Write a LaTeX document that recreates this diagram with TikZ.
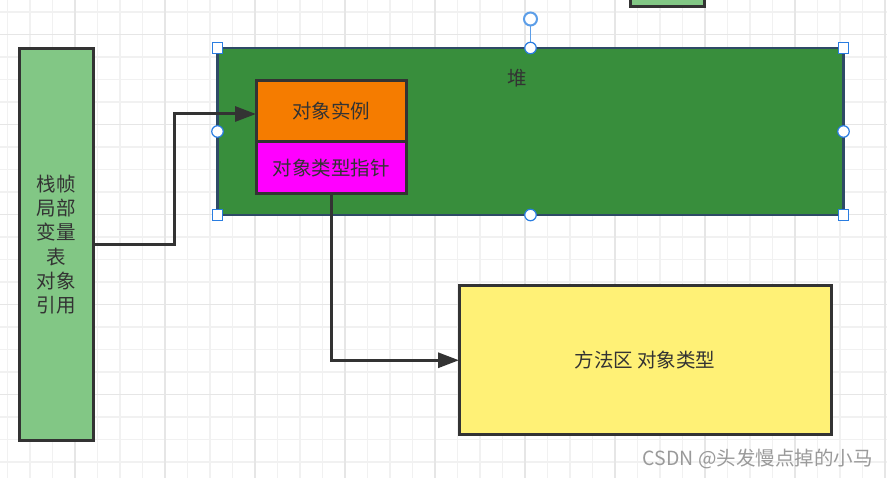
\documentclass[tikz,border=0pt]{standalone}
\usepackage{fontspec}
\setmainfont{Noto Sans CJK SC}
\usetikzlibrary{arrows.meta,calc}
\definecolor{lgreen}{HTML}{82C785}
\definecolor{hgreen}{HTML}{388E3C}
\definecolor{iorange}{HTML}{F57C00}
\definecolor{pmag}{HTML}{FF00FF}
\definecolor{myellow}{HTML}{FFF176}
\definecolor{boxline}{HTML}{333333}
\definecolor{heapline}{HTML}{2E4A66}
\definecolor{txt}{HTML}{333333}
\definecolor{selblue}{HTML}{2A7DE1}
\definecolor{rotblue}{HTML}{5C9EE8}
\definecolor{gridminor}{HTML}{F1F1F1}
\definecolor{gridmajor}{HTML}{E6E6E6}
\definecolor{wmark}{HTML}{9A9A9A}
\begin{document}
\begin{tikzpicture}[x=1pt,y=-1pt,
  box/.style={draw=boxline, line width=3pt, inner sep=0pt, outer sep=0pt,
    anchor=north west, font=\fontsize{19.5}{24.3}\selectfont, text=txt, align=center},
  conn/.style={draw=boxline, line width=3pt, -{Triangle[length=21pt,width=15pt]}},
  sqh/.style={draw=selblue, fill=white, line width=1.2pt, minimum size=10.5pt, inner sep=0pt, outer sep=0pt},
  circh/.style={draw=selblue, fill=white, line width=1.2pt, circle, minimum size=11.5pt, inner sep=0pt, outer sep=0pt},
  minorline/.style={draw=gridminor, line width=1.3pt},
  majorline/.style={draw=gridmajor, line width=1.3pt}]
\useasboundingbox (0,0) rectangle (887,478);
\clip (0,0) rectangle (887,478);
\fill[white] (0,0) rectangle (887,478);
% grid
\foreach \i in {0,...,39} \draw[minorline] ({7.5+22.5*\i},0) -- ({7.5+22.5*\i},478);
\foreach \j in {0,...,21} \draw[minorline] (0,{12+22.5*\j}) -- (887,{12+22.5*\j});
\foreach \i in {0,...,9} \draw[majorline] ({75+90*\i},0) -- ({75+90*\i},478);
\foreach \j in {0,...,5} \draw[majorline] (0,{34.5+90*\j}) -- (887,{34.5+90*\j});

% top partial box
\node[box, fill=lgreen, minimum width=74.5pt, minimum height=20pt] (topbox) at (630,-13) {};

% stack frame
\node[box, fill=lgreen, minimum width=73.5pt, minimum height=392pt] (stack) at (19.5,48.5)
  {栈帧\\局部\\变量\\表\\对象\\引用};

% heap
\node[box, draw=heapline, line width=2.5pt, fill=hgreen, minimum width=626pt, minimum height=167pt] (heap) at (217.5,48) {};
\node[font=\fontsize{19.5}{24}\selectfont, text=txt, inner sep=0pt] (heaplbl) at (517,78) {堆};

% object instance and type pointer
\node[box, fill=iorange, minimum width=150pt, minimum height=61pt] (inst) at (256,81) {对象实例};
\node[box, fill=pmag, minimum width=150pt, minimum height=52pt] (ptr) at (256,142) {对象类型指针};

% method area
\node[box, fill=myellow, minimum width=372pt, minimum height=148.5pt] (method) at (459,286) {方法区 对象类型};

% connectors
\draw[conn] (stack.east) -- ($(stack.east)+(81,0)$) |- ($(inst.west)+(0,2.5)$);
\draw[conn] (ptr.south) |- (method.west);

% selection handles
\coordinate (rot) at ($(heap.north)+(0,-29)$);
\draw[rotblue, line width=1.5pt] (rot) -- (heap.north);
\node[circle, draw=rotblue, fill=white, line width=2pt, minimum size=13pt, inner sep=0pt] (roth) at (rot) {};
\node[sqh] (hnw) at (heap.north west) {};
\node[sqh] (hne) at (heap.north east) {};
\node[sqh] (hsw) at (heap.south west) {};
\node[sqh] (hse) at (heap.south east) {};
\node[circh] (hn) at (heap.north) {};
\node[circh] (hs) at (heap.south) {};
\node[circh] (hw) at (heap.west) {};
\node[circh] (he) at (heap.east) {};

% watermark
\node[font=\fontsize{19.5}{22}\selectfont, text=wmark, anchor=east, inner sep=0pt] (wm) at (873,459) {CSDN @头发慢点掉的小马};
\end{tikzpicture}
\end{document}
